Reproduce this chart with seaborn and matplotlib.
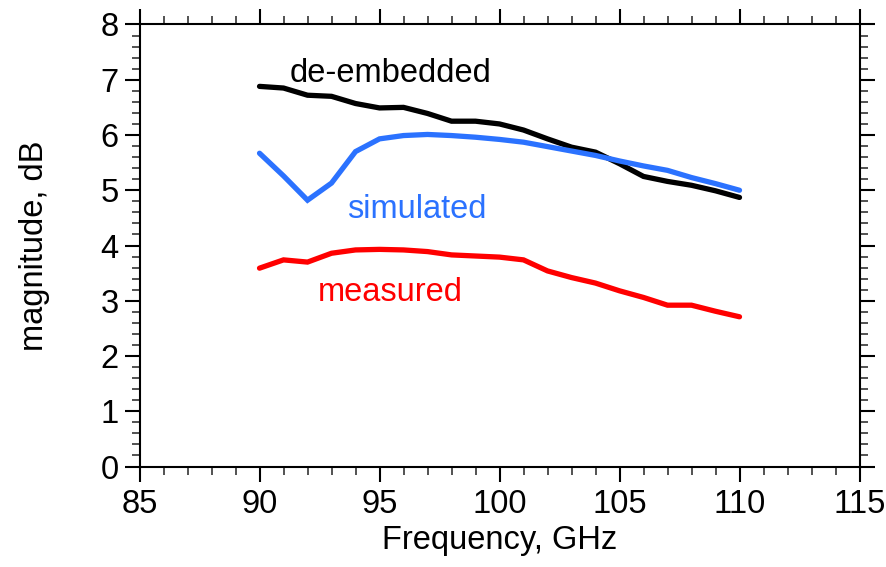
import numpy as np
import pandas as pd
import matplotlib
matplotlib.use("Agg")
import matplotlib.pyplot as plt
from matplotlib.ticker import MultipleLocator
import seaborn as sns

freq = [90, 91, 92, 93, 94, 95, 96, 97, 98, 99, 100,
        101, 102, 103, 104, 105, 106, 107, 108, 109, 110]
de_embedded = [6.88, 6.85, 6.72, 6.70, 6.57, 6.49, 6.50, 6.39, 6.25, 6.25, 6.20,
               6.09, 5.93, 5.78, 5.69, 5.48, 5.25, 5.16, 5.09, 4.99, 4.87]
simulated = [5.67, 5.26, 4.82, 5.13, 5.70, 5.93, 5.99, 6.01, 5.99, 5.96, 5.92,
             5.87, 5.79, 5.71, 5.63, 5.53, 5.44, 5.36, 5.23, 5.12, 5.00]
measured = [3.59, 3.74, 3.70, 3.86, 3.92, 3.93, 3.92, 3.89, 3.83, 3.81, 3.79,
            3.74, 3.54, 3.42, 3.32, 3.18, 3.06, 2.92, 2.92, 2.81, 2.71]

series_names = ["de-embedded", "simulated", "measured"]
series_colors = ["#000000", "#2b72ff", "#ff0000"]

df = pd.DataFrame({
    "freq": freq * 3,
    "mag": de_embedded + simulated + measured,
    "series": [n for n in series_names for _ in freq],
})

sns.set_theme(style="white")
plt.rcParams["font.family"] = ["Liberation Sans", "DejaVu Sans"]
plt.rcParams["text.color"] = "black"
plt.rcParams["axes.labelcolor"] = "black"
plt.rcParams["xtick.color"] = "black"
plt.rcParams["ytick.color"] = "black"

FS = 23.5

fig = plt.figure(figsize=(8.87, 5.67), dpi=100)
ax = fig.add_axes([0.1573, 0.1772, 0.8117, 0.7796])

sns.lineplot(data=df, x="freq", y="mag", hue="series", hue_order=series_names,
             palette=series_colors, linewidth=3.8, legend=False, ax=ax,
             solid_joinstyle="miter")

ax.set_xlim(85, 115)
ax.set_ylim(0, 8)
ax.xaxis.set_major_locator(MultipleLocator(5))
ax.xaxis.set_minor_locator(MultipleLocator(1))
ax.yaxis.set_major_locator(MultipleLocator(1))
ax.yaxis.set_minor_locator(MultipleLocator(0.2))

for s in ax.spines.values():
    s.set_visible(True)
    s.set_color("black")
    s.set_linewidth(1.5)

ax.tick_params(which="both", direction="out", top=True, right=True,
               bottom=True, left=True,
               labeltop=False, labelright=False)
ax.tick_params(which="major", length=11, width=1.5, labelsize=FS, pad=4,
               color="black", labelcolor="black")
ax.tick_params(which="minor", length=6, width=1.3, color="#444444")
ax.tick_params(axis="x", which="major", pad=5)

ax.set_xlabel("Frequency, GHz", fontsize=FS, labelpad=4, color="black")
ax.set_ylabel("magnitude, dB", fontsize=FS, labelpad=36, color="black")

# curve labels
ax.text(91.24, 6.96, "de-embedded", color=series_colors[0], fontsize=FS, va="baseline", ha="left")
ax.text(93.66, 4.49, "simulated", color=series_colors[1], fontsize=FS, va="baseline", ha="left")
ax.text(92.45, 3.00, "measured", color=series_colors[2], fontsize=FS, va="baseline", ha="left")

fig.savefig("out.png", dpi=100)
